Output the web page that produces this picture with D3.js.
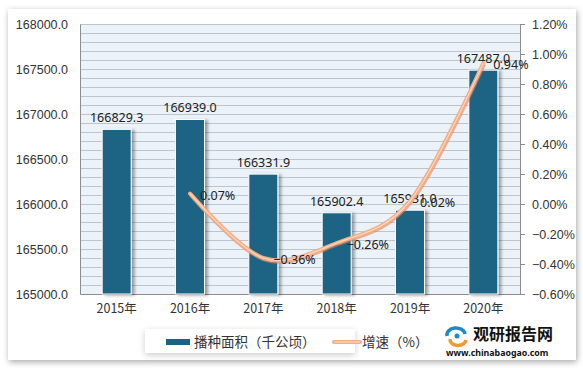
<!DOCTYPE html>
<html><head><meta charset="utf-8">
<script src="https://cdn.jsdelivr.net/npm/d3@7"></script>
<style>
html,body{margin:0;padding:0;background:#fff;}
svg{display:block;font-family:"Noto Sans","Noto Sans CJK SC",sans-serif;}
</style></head>
<body><svg id="c" width="583" height="368"></svg>
<script>
const categories = ["2015年","2016年","2017年","2018年","2019年","2020年"];
const areaValues = [166829.3,166939.0,166331.9,165902.4,165931.0,167487.0];
const growthYears = ["2016年","2017年","2018年","2019年","2020年"];
const growthValues = [0.07,-0.36,-0.26,0.02,0.94];
const leftTicks = [165000,165500,166000,166500,167000,167500,168000];
const rightTicks = [-0.6,-0.4,-0.2,0,0.2,0.4,0.6,0.8,1.0,1.2];
const legendLabels = ["播种面积（千公顷）","增速（%）"];

const svg = d3.select("#c");
const defs = svg.append("defs");
const f1 = defs.append("filter").attr("id","card").attr("x","-5%").attr("y","-5%").attr("width","110%").attr("height","115%");
f1.append("feDropShadow").attr("dx",1).attr("dy",2).attr("stdDeviation",3).attr("flood-color","#000").attr("flood-opacity",0.35);
const f2 = defs.append("filter").attr("id","bsh").attr("x","-20%").attr("y","-10%").attr("width","160%").attr("height","130%");
f2.append("feDropShadow").attr("dx",3).attr("dy",1).attr("stdDeviation",1.5).attr("flood-color","#000").attr("flood-opacity",0.35);
const f3 = defs.append("filter").attr("id","lsh").attr("x","-10%").attr("y","-30%").attr("width","120%").attr("height","180%");
f3.append("feDropShadow").attr("dx",0).attr("dy",2).attr("stdDeviation",3).attr("flood-color","#000").attr("flood-opacity",0.2);

// card
svg.append("rect").attr("x",8).attr("y",9).attr("width",568).attr("height",351).attr("fill","#fff").attr("filter","url(#card)");

const L=80,R=520,T=24,B=294;
const x = d3.scaleBand().domain(categories).range([L,R]);
const yL = d3.scaleLinear().domain([165000,168000]).range([B,T]);
const yR = d3.scaleLinear().domain([-0.6,1.2]).range([B,T]);

svg.append("rect").attr("x",L).attr("y",T).attr("width",R-L).attr("height",B-T).attr("fill","#EBF2F9");
// minor gridlines every 100
const grid = d3.range(165100,168001,100);
svg.append("g").selectAll("line").data(grid).join("line")
  .attr("x1",L).attr("x2",R).attr("y1",d=>Math.round(yL(d))+0.5).attr("y2",d=>Math.round(yL(d))+0.5)
  .attr("stroke","#BFC4C9").attr("stroke-width",1);

// left axis
const axL = svg.append("g").attr("transform",`translate(${L},0)`)
  .call(d3.axisLeft(yL).tickValues(leftTicks).tickFormat(d3.format(".1f")).tickSize(0).tickPadding(12));
axL.select(".domain").attr("stroke","#8C8C8C");
axL.selectAll("text").attr("font-size",12.5).attr("fill","#333");

// right axis
const axR = svg.append("g").attr("transform",`translate(${R},0)`)
  .call(d3.axisRight(yR).tickValues(rightTicks).tickFormat(d=>d3.format(".2f")(d)+"%").tickSize(5).tickPadding(7));
axR.select(".domain").attr("stroke","#8C8C8C");
axR.selectAll("line").attr("stroke","#8C8C8C");
axR.selectAll("text").attr("font-size",12.5).attr("fill","#333");

// bottom axis
const axB = svg.append("g").attr("transform",`translate(0,${B})`)
  .call(d3.axisBottom(x).tickSize(0).tickPadding(10));
axB.select(".domain").attr("stroke","#8C8C8C");
axB.selectAll("text").attr("font-size",12.5).attr("fill","#333").attr("font-family","'Noto Sans CJK SC',sans-serif");

// bars
const bw = 29;
svg.append("g").selectAll("rect").data(areaValues).join("rect")
  .attr("x",(d,i)=>x(categories[i])+x.bandwidth()/2-bw/2)
  .attr("y",d=>yL(d)).attr("width",bw).attr("height",d=>B-yL(d))
  .attr("fill","#1A6384").attr("stroke","#fff").attr("stroke-width",1).attr("filter","url(#bsh)");

svg.append("g").selectAll("text").data(areaValues).join("text")
  .attr("x",(d,i)=>x(categories[i])+x.bandwidth()/2).attr("y",d=>yL(d)-7)
  .attr("text-anchor","middle").attr("font-size",12.5).attr("fill","#222")
  .text(d=>d3.format(".1f")(d));

// line
const pts = growthValues.map((v,i)=>[x(growthYears[i])+x.bandwidth()/2, yR(v)]);
const line = d3.line().curve(d3.curveCardinal.tension(0));
svg.append("path").attr("d",line(pts)).attr("fill","none").attr("stroke","#D9875E").attr("stroke-width",4.5).attr("stroke-opacity",0.6).attr("transform","translate(0.5,1)");
svg.append("path").attr("d",line(pts)).attr("fill","none").attr("stroke","#F5AD84").attr("stroke-width",4).attr("stroke-linecap","round");
svg.append("path").attr("d",line(pts)).attr("fill","none").attr("stroke","#FBD7C2").attr("stroke-width",1.2);

svg.append("g").selectAll("text").data(growthValues).join("text")
  .attr("x",(d,i)=>pts[i][0]+10).attr("y",(d,i)=>pts[i][1]+6)
  .attr("font-size",12.5).attr("fill","#222")
  .text(d=>d3.format(".2f")(d)+"%");

// legend
const lg = svg.append("g");
lg.append("rect").attr("x",145).attr("y",329).attr("width",210).attr("height",24).attr("fill","#fff").attr("filter","url(#lsh)");
lg.append("rect").attr("x",166).attr("y",339).attr("width",24).attr("height",6).attr("fill","#1A6384");
lg.append("text").attr("x",194).attr("y",347).attr("font-size",13.5).attr("fill","#333").attr("font-family","'Noto Sans CJK SC',sans-serif").text(legendLabels[0]);
lg.append("line").attr("x1",334).attr("x2",360).attr("y1",342).attr("y2",342).attr("stroke","#F5AD84").attr("stroke-width",4).attr("stroke-linecap","round");
lg.append("line").attr("x1",334).attr("x2",360).attr("y1",342).attr("y2",342).attr("stroke","#FBD7C2").attr("stroke-width",1.2);
lg.append("text").attr("x",362).attr("y",347).attr("font-size",13.5).attr("fill","#333").attr("font-family","'Noto Sans CJK SC',sans-serif").text(legendLabels[1]);

// watermark
const wm = svg.append("g");
wm.append("path").attr("d","M447,336 a9,7 0 1,1 18,-2").attr("fill","none").attr("stroke","#1E88C8").attr("stroke-width",3.5);
wm.append("path").attr("d","M450,339 a8,6 0 0,0 16,1").attr("fill","none").attr("stroke","#F29A2E").attr("stroke-width",3.5);
wm.append("circle").attr("cx",457).attr("cy",336).attr("r",2.5).attr("fill","#1E88C8");
wm.append("text").attr("x",473).attr("y",340).attr("font-size",16).attr("font-weight","bold").attr("fill","#111").attr("font-family","'Noto Sans CJK SC',sans-serif").text("观研报告网");
wm.append("text").attr("x",446).attr("y",356).attr("font-size",8.8).attr("font-weight","bold").attr("fill","#111").text("www.chinabaogao.com");
</script></body></html>
